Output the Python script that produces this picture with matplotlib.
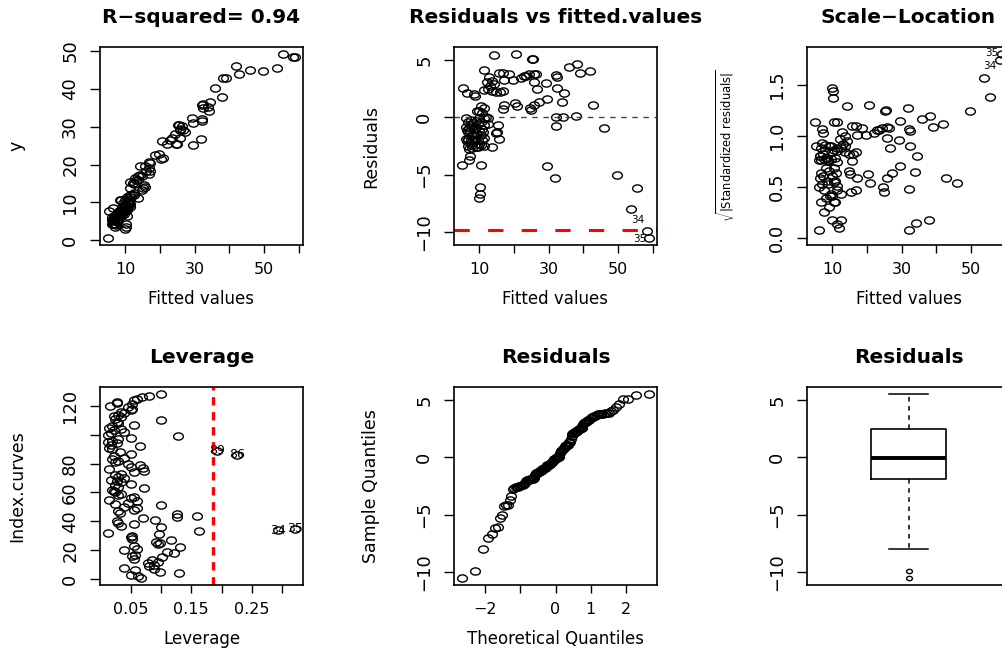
import numpy as np
import matplotlib
matplotlib.use("Agg")
import matplotlib.pyplot as plt
from matplotlib.path import Path
from statistics import NormalDist

# fitted values and residuals of the curve model, one entry per observation
fitted = [
    4.9, 5.2, 6.4, 8.6, 8.8, 10.5, 11.25, 10.0, 9.3, 11.4, 11.25, 10.5, 10.3, 10.3, 10.0, 7.1, 7.4,
    6.3, 6.1, 6.4, 6.2, 6.5,
    6.8, 7.0, 6.7, 6.9, 6.8, 7.1,
    7.5, 7.7, 7.4, 7.6, 7.3, 7.8,
    8.2, 8.4, 8.1, 8.3, 8.0,
    9.0, 8.8, 9.1, 8.9, 9.2,
    9.8, 9.6, 9.9, 9.7, 10.0, 9.5,
    10.6, 10.8, 10.5, 10.7, 10.4,
    11.4, 11.2, 11.5, 11.3,
    10.8, 12.0, 12.5,
    12.6, 13.8, 15.3, 14.8, 15.8, 15.0,
    11.4, 12.4, 13.2, 12.2, 12.9, 13.8, 14.3, 13.6, 14.8, 16.1, 16.7,
    15.8, 16.7, 17.2, 18.7, 19.6, 22.0, 23.5, 24.4, 25.7, 26.3, 23.0,
    14.3, 20.6, 25.4, 25.3,
    25.9, 26.5, 29.2, 32.1, 32.4,
    29.5, 27.3, 25.9, 24.7, 24.9,
    20.3, 20.9, 16.7, 17.2,
    32.1, 32.2, 29.5, 31.9,
    35.9, 38.1, 39.0, 41.9, 32.5, 34.4, 33.8, 42.8, 34.2, 37.8,
    45.9, 49.6, 55.3, 53.6, 58.4, 59.0,
]
resid = [
    -4.2, 2.6, 2.1, 2.0, 1.85, 0.97, 0.82, 0.53, 0.53, -0.06, 4.15, -4.2, -6.1, -6.7, -7.0, -3.7, -3.4,
    -0.02, -0.8, -1.1, -1.9, -2.1,
    -0.4, -0.9, -1.3, -1.9, -2.5, -2.8,
    -0.2, -0.7, -1.2, -1.95, -2.2, -2.7,
    -0.5, -1.0, -1.5, -2.0, -2.4,
    -0.3, -0.9, -1.4, -1.9, -2.6,
    -0.1, -0.6, -1.2, -1.95, -2.3, -2.6,
    -0.4, -1.0, -1.5, -2.0, -2.4,
    -0.7, -1.3, -1.8, -2.5,
    0.4, 0.03, -0.1,
    -0.6, -2.6, -0.65, -1.4, -1.85, -1.25,
    2.35, 2.5, 2.75, 3.05, 3.5, 3.2, 2.9, 2.3, 2.2, 2.2, 2.3,
    3.9, 3.9, 3.3, 3.75, 3.3, 3.4, 3.6, 3.75, 3.8, 3.75, 3.6,
    5.4, 5.5, 5.1, 5.05,
    3.1, 2.5, 3.0, 3.7, 2.6,
    1.6, 1.3, 1.1, 0.8, 0.65,
    1.25, 0.95, 0.7, 1.1,
    0.02, -0.75, -4.25, -5.25,
    4.4, 4.65, 3.85, 4.05, 3.55, 2.1, 1.35, 1.1, 0.07, 0.1,
    -0.95, -5.0, -6.2, -8.0, -9.9, -10.5,
]

# hat values by curve index (1..128)
leverage = [
    0.068, 0.063, 0.050, 0.130, 0.099, 0.058, 0.088, 0.040, 0.080, 0.088,
    0.078, 0.095, 0.085, 0.056, 0.102, 0.052, 0.057, 0.121, 0.110, 0.040,
    0.060, 0.132, 0.056, 0.095, 0.099, 0.092, 0.116, 0.052, 0.050, 0.053,
    0.097, 0.013, 0.163, 0.293, 0.322, 0.100, 0.034, 0.055, 0.030, 0.028,
    0.091, 0.070, 0.127, 0.160, 0.127, 0.032, 0.030, 0.055, 0.060, 0.040,
    0.0995, 0.025, 0.045, 0.060, 0.015, 0.050, 0.055, 0.030, 0.035, 0.025,
    0.022, 0.020, 0.072, 0.030, 0.025, 0.050, 0.035, 0.028, 0.018, 0.040,
    0.030, 0.025, 0.035, 0.055, 0.072, 0.015, 0.070, 0.050, 0.065, 0.045,
    0.025, 0.030, 0.020, 0.040, 0.022, 0.226, 0.050, 0.032, 0.193, 0.020,
    0.015, 0.065, 0.018, 0.028, 0.012, 0.020, 0.030, 0.050, 0.129, 0.012,
    0.018, 0.040, 0.022, 0.035, 0.015, 0.020, 0.055, 0.030, 0.028, 0.101,
    0.025, 0.035, 0.022, 0.030, 0.040, 0.035, 0.050, 0.052, 0.045, 0.016,
    0.053, 0.028, 0.027, 0.055, 0.060, 0.069, 0.081, 0.0995,
]
flag_index = [34, 35, 86, 89]

r_squared = 0.94
resid_se = 3.25
lev_cut = 0.186
resid_cut = -9.85

fitted = np.array(fitted)
resid = np.array(resid)
leverage = np.array(leverage)
y_obs = fitted + resid
sqrt_std = np.sqrt(np.abs(resid) / resid_se)
index_curves = np.arange(1, len(leverage) + 1)
n = len(resid)
qq_theory = np.array([NormalDist().inv_cdf((i - 0.5) / n) for i in range(1, n + 1)])
qq_sample = np.sort(resid)
big_fit = np.argsort(fitted)[-2:]

NARROW = "Liberation Sans Narrow"
plt.rcParams["font.family"] = "DejaVu Sans"
plt.rcParams["mathtext.fontset"] = "custom"
plt.rcParams["mathtext.rm"] = NARROW
plt.rcParams["mathtext.it"] = NARROW
plt.rcParams["axes.unicode_minus"] = True

# circles come out slightly wide, like the rest of the figure
circ = Path.unit_circle()
ring = Path(circ.vertices * [1.35, 1.0], circ.codes)
PT = dict(linestyle="none", marker=ring, ms=7.0, mfc="none", mec="black", mew=1.0)

W, H = 1002, 648
fig = plt.figure(figsize=(W / 100, H / 100), dpi=100)


def panel(col, row):
    left = [100, 454, 807][col]
    top = [47, 387][row]
    ax = fig.add_axes([left / W, 1 - (top + 198) / H, 203 / W, 198 / H])
    for s in ax.spines.values():
        s.set_linewidth(1.2)
    ax.tick_params(axis="x", direction="out", length=6, width=1, pad=6, labelsize=11.5)
    ax.tick_params(axis="y", direction="out", length=7, width=1, pad=8, labelsize=13)
    return ax


def rlim(v):
    lo, hi = np.min(v), np.max(v)
    d = 0.04 * (hi - lo)
    return lo - d, hi + d


def lab(v, show):
    return [("%g" % t).replace("-", "\u2212") if s else "" for t, s in zip(v, show)]


def finish(ax, title, xlabel, ylabel, xt, xshow, yt, yshow):
    ax.set_title(title, fontsize=14.5, fontweight="bold", pad=17.5)
    if xt is not None:
        ax.set_xticks(xt, lab(xt, xshow))
    if yt is not None:
        ax.set_yticks(yt, lab(yt, yshow), rotation=90, va="center", fontfamily=NARROW)
    if xlabel:
        ax.set_xlabel(xlabel, fontsize=12)
        ax.xaxis.set_label_coords(0.5, -0.228)
    ax.set_ylabel(ylabel, fontsize=12.5, fontfamily=NARROW)
    ax.yaxis.set_label_coords(-0.365, 0.5)


def tag_points(ax, xs, ys, dx, dys):
    # labels sit just left of the two largest fitted points
    for k, i in enumerate(big_fit):
        ax.text(xs[i] - dx, ys[i] + dys[k], str(flag_index[k]), fontsize=7.5,
                ha="right", va="center", clip_on=True)


fit_ticks = [10, 20, 30, 40, 50, 60]
fit_show = [1, 0, 1, 0, 1, 0]

# observed vs fitted
ax = panel(0, 0)
ax.plot(fitted, y_obs, **PT)
ax.set_xlim(rlim(fitted))
ax.set_ylim(rlim(y_obs))
finish(ax, "R\u2212squared= %.2f" % r_squared, "Fitted values", "y",
       fit_ticks, fit_show, [0, 10, 20, 30, 40, 50], [1] * 6)

# residuals vs fitted
ax = panel(1, 0)
ax.plot(fitted, resid, **PT)
ax.axhline(0, color="#444444", lw=1, dashes=(4, 4))
ax.axhline(resid_cut, color="red", lw=2.2, dashes=(5, 6))
tag_points(ax, fitted, resid, 1.0, [0.9, -0.1])
ax.set_xlim(rlim(fitted))
ax.set_ylim(rlim(resid))
finish(ax, "Residuals vs fitted.values", "Fitted values", "Residuals",
       fit_ticks, fit_show, [-10, -5, 0, 5], [1] * 4)

# scale-location
ax = panel(2, 0)
ax.plot(fitted, sqrt_std, **PT)
tag_points(ax, fitted, sqrt_std, 1.2, [-0.06, 0.01])
ax.set_xlim(rlim(fitted))
ax.set_ylim(rlim(np.append(sqrt_std, 0)))
finish(ax, "Scale\u2212Location", "Fitted values",
       r"$\sqrt{|\mathrm{Standardized\ residuals}|}$",
       fit_ticks, fit_show, None, None)
ax.set_yticks([0.0, 0.5, 1.0, 1.5], ["0.0", "0.5", "1.0", "1.5"],
              rotation=90, va="center", fontfamily=NARROW)
ax.yaxis.label.set_fontsize(8.3)
ax.yaxis.set_label_coords(-0.345, 0.5)

# leverage by index
ax = panel(0, 1)
ax.plot(leverage, index_curves, **PT)
ax.axvline(lev_cut, color="red", lw=2.4, dashes=(2.5, 2))
for i in flag_index:
    ax.text(leverage[i - 1], i, str(i), fontsize=9, ha="center", va="center")
ax.set_xlim(rlim(leverage))
ax.set_ylim(rlim(index_curves))
finish(ax, "Leverage", "Leverage", "Index.curves",
       [0.05, 0.10, 0.15, 0.20, 0.25, 0.30], [1, 0, 1, 0, 1, 0],
       [0, 20, 40, 60, 80, 100, 120], [1, 1, 1, 1, 1, 0, 1])

# normal QQ of residuals
ax = panel(1, 1)
ax.plot(qq_theory, qq_sample, **PT)
ax.set_xlim(rlim(qq_theory))
ax.set_ylim(rlim(qq_sample))
finish(ax, "Residuals", "Theoretical Quantiles", "Sample Quantiles",
       [-2, -1, 0, 1, 2], [1, 0, 1, 1, 1], [-10, -5, 0, 5], [1] * 4)

# boxplot of residuals
ax = panel(2, 1)
ax.boxplot(resid, positions=[1], widths=0.37, capwidths=0.19, whis=1.5,
           medianprops=dict(color="black", lw=2.8),
           boxprops=dict(color="black", lw=1.2),
           whiskerprops=dict(color="black", lw=1.1, linestyle=(0, (3, 3))),
           capprops=dict(color="black", lw=1.1),
           flierprops=dict(marker=ring, ms=4.2, mfc="none", mec="black", mew=1.0))
ax.set_xlim(0.5, 1.5)
ax.set_ylim(rlim(resid))
ax.set_xticks([])
finish(ax, "Residuals", None, "", None, None, [-10, -5, 0, 5], [1] * 4)

fig.savefig("out.png", dpi=100)
